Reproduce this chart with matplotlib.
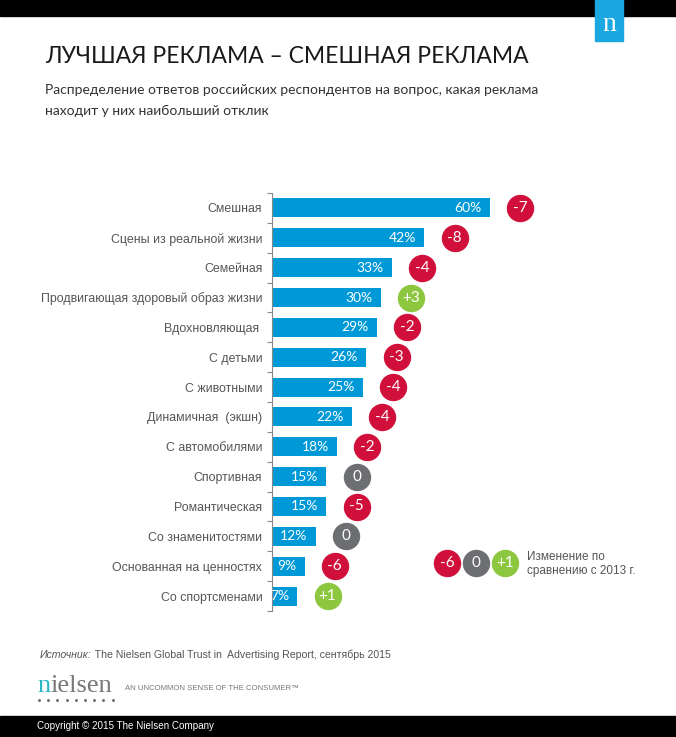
import matplotlib
matplotlib.use("Agg")
import matplotlib.pyplot as plt

# данные
categories = ["Смешная", "Сцены из реальной жизни", "Семейная",
              "Продвигающая здоровый образ жизни", "Вдохновляющая ",
              "С детьми", "С животными", "Динамичная  (экшн)", "С автомобилями",
              "Спортивная", "Романтическая", "Со знаменитостями",
              "Основанная на ценностях", "Со спортсменами"]
values = [60, 42, 33, 30, 29, 26, 25, 22, 18, 15, 15, 12, 9, 7]
changes = [-7, -8, -4, 3, -2, -3, -4, -4, -2, 0, -5, 0, -6, 1]
legend_values = [-6, 0, 1]

BLUE = "#0099D8"
RED = "#D0103A"
GREEN = "#8DC63F"
GREY = "#6D6E71"
TXT = "#555555"


def badge_color(v):
    if v < 0:
        return RED
    if v > 0:
        return GREEN
    return GREY


def badge_text(v):
    return "+%d" % v if v > 0 else "%d" % v


W, H = 676, 737
fig = plt.figure(figsize=(W / 100, H / 100), dpi=100)

# фоновая ось в пикселях для оформления
bg = fig.add_axes([0, 0, 1, 1], zorder=0)
bg.set_xlim(0, W)
bg.set_ylim(H, 0)
bg.axis("off")

bg.add_patch(plt.Rectangle((0, 0), W, 16, color="black"))
bg.add_patch(plt.Rectangle((0, 716), W, 21, color="black"))
bg.add_patch(plt.Rectangle((595, 0), 28, 41, color="#1BA8E0"))
bg.text(609, 24, "n", color="white", fontsize=20, family="Liberation Serif",
        ha="center", va="center")

bg.text(45, 56, "ЛУЧШАЯ РЕКЛАМА – СМЕШНАЯ РЕКЛАМА", fontsize=16.5,
        family="Lato", color="#1a1a1a", va="center")
bg.text(45, 90, "Распределение ответов российских респондентов на вопрос, какая реклама",
        fontsize=10, family="Lato", color="#333333", va="center")
bg.text(45, 111, "находит у них наибольший отклик",
        fontsize=10, family="Lato", color="#333333", va="center")

# легенда
for i, v in enumerate(legend_values):
    bg.scatter(447 + i * 29, 563, s=350, color=badge_color(v), zorder=3)
    bg.text(447 + i * 29, 563, badge_text(v), color="white", fontsize=11,
            family="Lato", ha="center", va="center", zorder=4)
bg.text(527, 557, "Изменение по", fontsize=8.5, family="Liberation Sans",
        color=TXT, va="center")
bg.text(527, 571, "сравнению с 2013 г.", fontsize=8.5, family="Liberation Sans",
        color=TXT, va="center")

# подвал
src = bg.text(40, 655, "Источник:", fontsize=7.6, family="Liberation Sans",
              style="italic", color=TXT, va="center")
bg.annotate(" The Nielsen Global Trust in  Advertising Report, сентябрь 2015",
            xy=(1, 0.5), xycoords=src, fontsize=7.6, family="Liberation Sans",
            color=TXT, va="center")
n_txt = bg.text(37, 692, "n", fontsize=19, family="Liberation Serif",
                color="#2BB5C9", va="baseline")
bg.annotate("ielsen", xy=(1, 0), xycoords=n_txt, fontsize=19,
            family="Liberation Serif", color="#777777", va="bottom")
for k in range(9):
    bg.scatter(39 + k * 9.2, 700, s=1.5, color="#777777")
bg.text(125, 688, "AN UNCOMMON SENSE OF THE CONSUMER\u2122", fontsize=5.6,
        family="Liberation Sans", color="#777777", va="center")
bg.text(37, 726, "Copyright © 2015 The Nielsen Company", fontsize=7.1,
        family="Liberation Sans", color="white", va="center")

# основной график
px_per_unit = 3.63
ax = fig.add_axes([272 / W, (H - 611) / H, 400 / W, 418 / H], zorder=1)
ax.patch.set_alpha(0)
ypos = list(range(len(categories)))
ax.barh(ypos, values, height=0.64, color=BLUE)
ax.set_xlim(0, 400 / px_per_unit)
ax.set_ylim(len(categories) - 0.5, -0.5)

for s in ["top", "right", "bottom"]:
    ax.spines[s].set_visible(False)
ax.spines["left"].set_color("#888888")
ax.spines["left"].set_linewidth(0.8)
ax.set_xticks([])
ax.set_yticks(ypos)
ax.set_yticklabels(categories, fontsize=8.9, family="Liberation Sans", color=TXT)
ax.tick_params(axis="y", which="major", length=0, pad=7)
ax.set_yticks([i - 0.5 for i in range(len(categories) + 1)], minor=True)
ax.tick_params(axis="y", which="minor", length=3.6, color="#888888", width=0.8)

gap = 8.3
for y, v, c in zip(ypos, values, changes):
    ax.annotate("%d%%" % v, (v, y), xytext=(-6, 0), textcoords="offset points",
                ha="right", va="center", color="white", fontsize=10, family="Lato")
    ax.scatter(v + gap, y, s=350, color=badge_color(c), clip_on=False, zorder=3)
    ax.text(v + gap, y, badge_text(c), color="white", fontsize=11, family="Lato",
            ha="center", va="center", zorder=4)

fig.savefig("out.png", dpi=100)
